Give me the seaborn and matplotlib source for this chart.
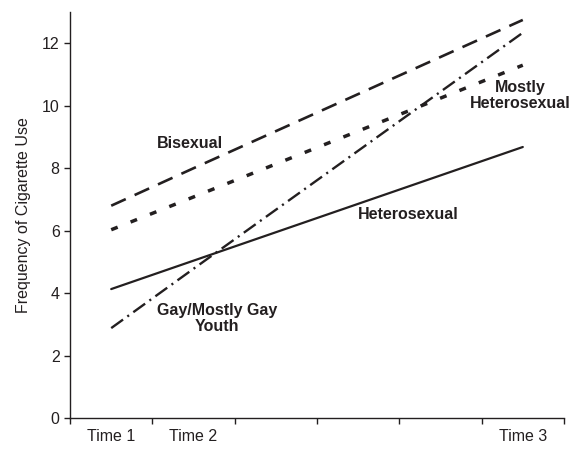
import numpy as np
import pandas as pd
import seaborn as sns
import matplotlib.pyplot as plt

sns.set_style("ticks")
plt.rcParams['font.family'] = ['Liberation Sans', 'DejaVu Sans']
plt.rcParams['lines.scale_dashes'] = False

ink = '#231f20'

time_pos = [0.5, 1.5, 5.5]
groups = ['Bisexual', 'Mostly Heterosexual', 'Heterosexual', 'Gay/Mostly Gay Youth']
bisexual = [6.8, 8.0, 12.75]
mostly_het = [6.03, 7.08, 11.3]
heterosexual = [4.13, 5.04, 8.68]
gay = [2.88, 4.78, 12.34]

tick_labels = ['Time 1', 'Time 2', 'Time 3']

df = pd.DataFrame({
    'x': time_pos * 4,
    'value': bisexual + mostly_het + heterosexual + gay,
    'group': np.repeat(groups, 3),
})

# dash patterns in points (scale_dashes off)
styles = {
    'Bisexual': dict(lw=1.9, ls=(0, (11.5, 7))),
    'Mostly Heterosexual': dict(lw=2.5, ls=(0, (5, 10))),
    'Heterosexual': dict(lw=1.6, ls='-'),
    'Gay/Mostly Gay Youth': dict(lw=1.7, ls=(0, (10.5, 3.8, 1.5, 3.8))),
}

fig = plt.figure(figsize=(5.79, 4.49), dpi=100)
ax = fig.add_axes([0.121, 0.069, 0.853, 0.904])

for g in groups:
    st = styles[g]
    sns.lineplot(data=df[df.group == g], x='x', y='value', ax=ax, color=ink,
                 linewidth=st['lw'], linestyle=st['ls'])

ax.set_xlim(0, 6)
ax.set_ylim(0, 13)
ax.set_xticks(range(7))
ax.set_xticklabels([])
ax.set_xticks(time_pos, minor=True)
ax.set_xticklabels(tick_labels, minor=True, fontsize=11.5, color=ink)
ax.tick_params(axis='x', which='minor', length=0, pad=8)
ax.tick_params(axis='both', which='major', direction='out', length=4,
               width=1, color=ink, labelsize=11.5, labelcolor=ink)
ax.set_yticks(range(0, 13, 2))
ax.set_xlabel('')
ax.set_ylabel('Frequency of Cigarette Use', fontsize=11.5, color=ink, labelpad=8)
sns.despine(ax=ax)
for s in ['left', 'bottom']:
    ax.spines[s].set_color(ink)
    ax.spines[s].set_linewidth(1)

tkw = dict(fontsize=11.5, fontweight='bold', color=ink, ha='center', va='center',
           linespacing=1.1)
ax.text(1.46, 8.8, 'Bisexual', **tkw)
ax.text(5.47, 10.34, 'Mostly\nHeterosexual', **tkw)
ax.text(4.11, 6.53, 'Heterosexual', **tkw)
ax.text(1.79, 3.2, 'Gay/Mostly Gay\nYouth', **tkw)

fig.savefig('out.png', dpi=100)
